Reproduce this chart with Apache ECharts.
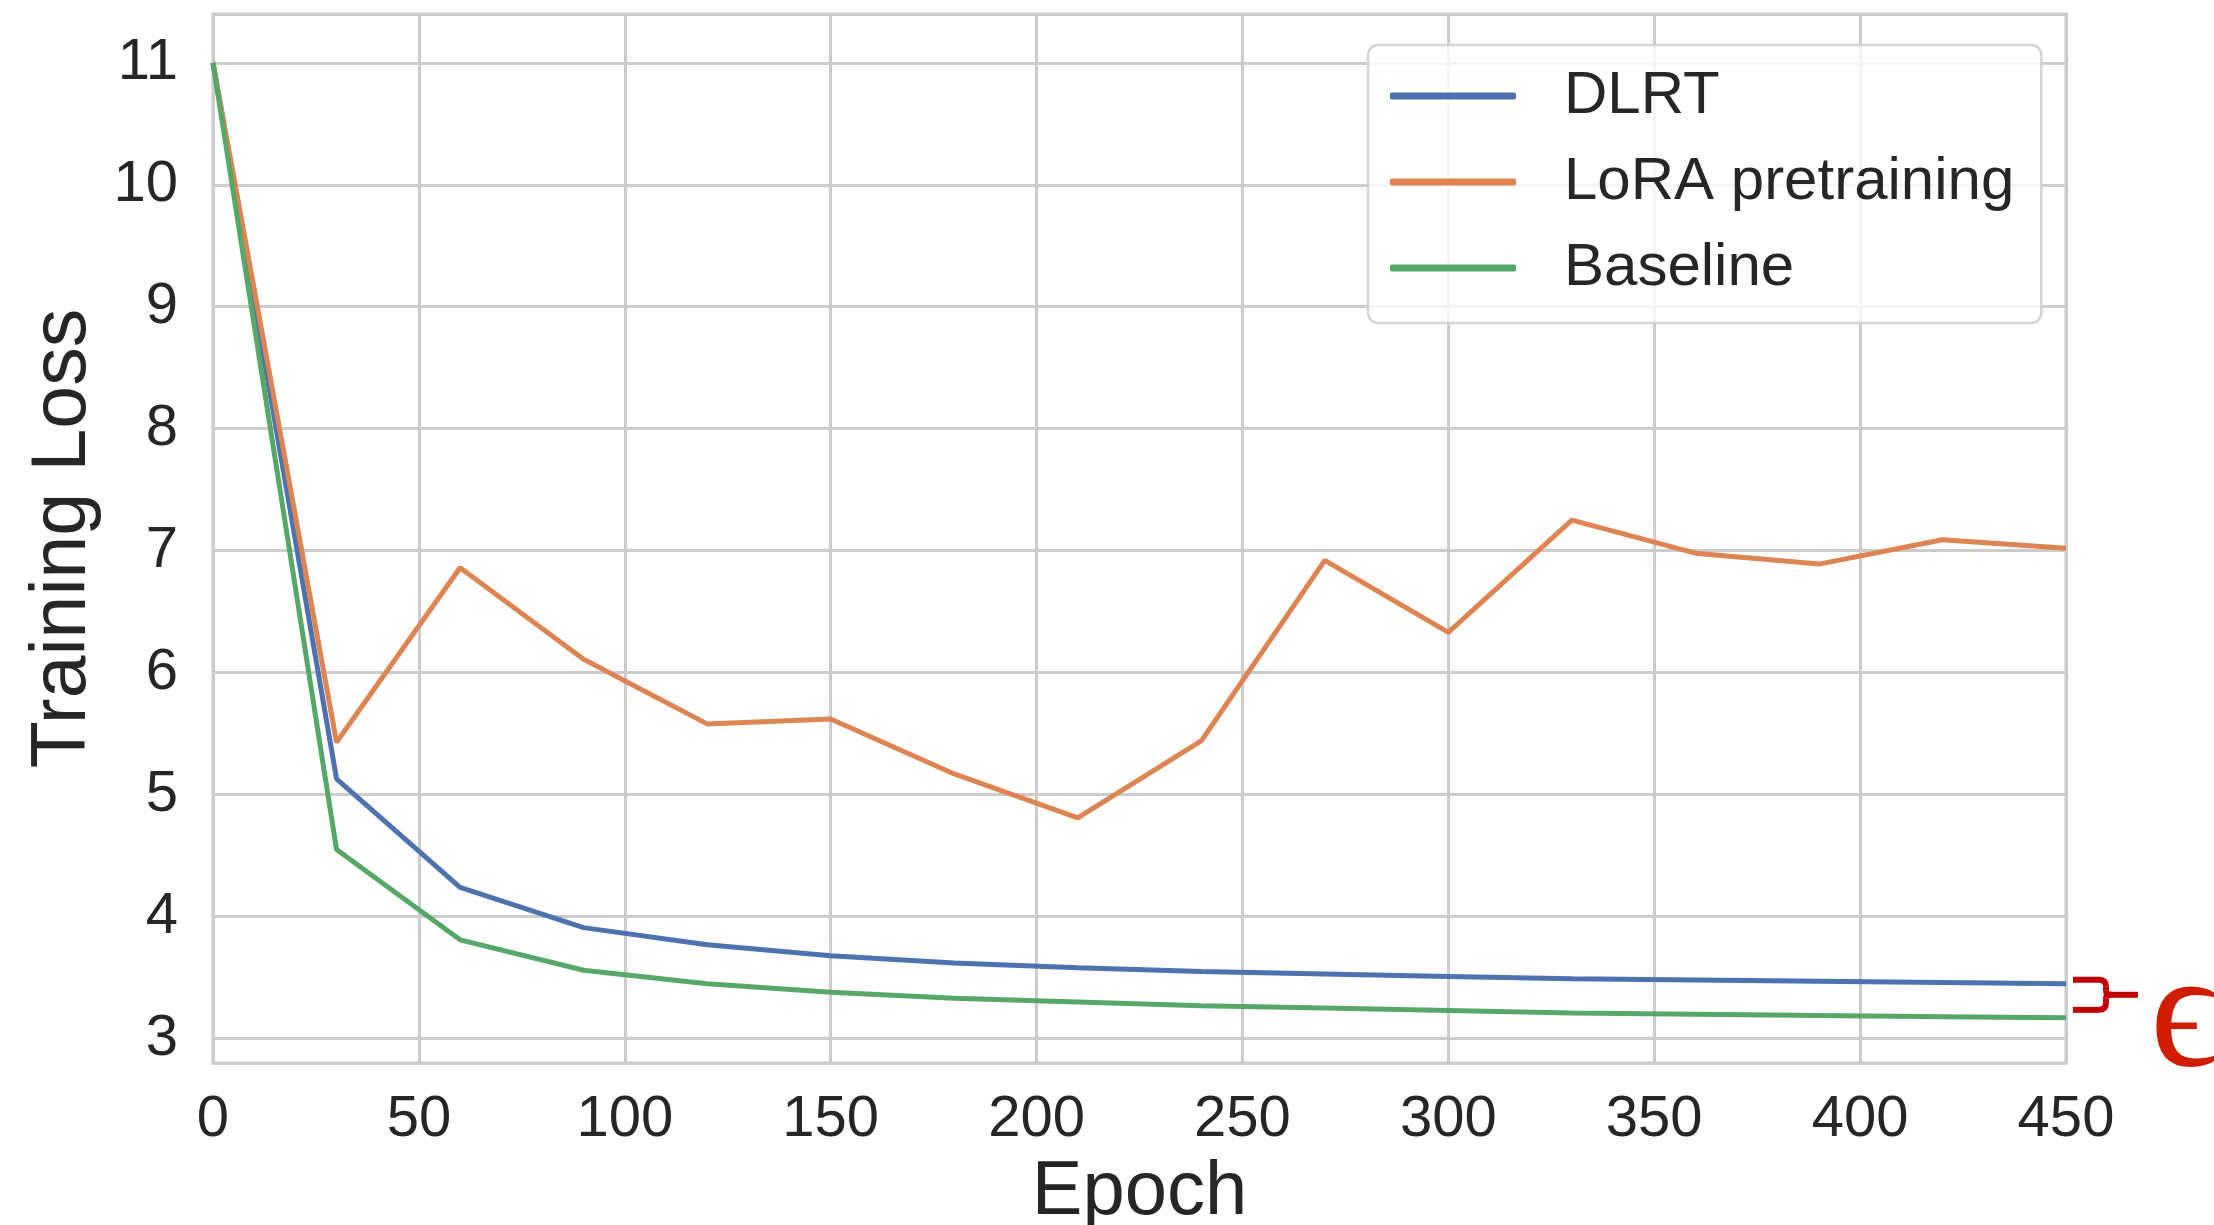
<!DOCTYPE html>
<html>
<head>
<meta charset="utf-8">
<title>Training Loss</title>
<script src="https://cdn.jsdelivr.net/npm/echarts@6/dist/echarts.min.js"></script>
<style>
  html, body { margin: 0; padding: 0; background: #fff; }
  #chart { width: 2214px; height: 1225px; }
</style>
</head>
<body>
<div id="chart"></div>
<script>
  // data (one point every 30 epochs)
  const epochs = [0, 30, 60, 90, 120, 150, 180, 210, 240, 270, 300, 330, 360, 390, 420, 450];
  const dlrt = [11.0, 5.13, 4.24, 3.91, 3.77, 3.68, 3.62, 3.58, 3.55, 3.53, 3.51, 3.49, 3.48, 3.47, 3.46, 3.45];
  const lora = [11.0, 5.43, 6.86, 6.11, 5.58, 5.62, 5.17, 4.81, 5.44, 6.92, 6.33, 7.25, 6.98, 6.89, 7.09, 7.02];
  const baseline = [11.0, 4.55, 3.81, 3.56, 3.45, 3.38, 3.33, 3.30, 3.27, 3.25, 3.23, 3.21, 3.20, 3.19, 3.18, 3.17];
  const seriesNames = ['DLRT', 'LoRA pretraining', 'Baseline'];
  const colors = ['#4c72b0', '#dd8452', '#55a868'];
  const xTickStep = 50;

  const font = '"Liberation Sans", Arial, sans-serif';
  const textColor = '#262626';
  const gridColor = '#cccccc';

  function pairs(ys) {
    return epochs.map((x, i) => [x, ys[i]]);
  }

  const chart = echarts.init(document.getElementById('chart'));
  const option = {
    animation: false,
    color: colors,
    grid: {
      left: 213, right: 148, top: 14, bottom: 162,
      outerBoundsMode: 'none',
      show: true, borderColor: gridColor, borderWidth: 3, backgroundColor: '#fff'
    },
    legend: {
      orient: 'vertical',
      left: 1368, top: 45,
      padding: [21, 27, 25, 22],
      itemWidth: 126, itemHeight: 7, itemGap: 26,
      icon: 'roundRect',
      data: seriesNames,
      textStyle: { fontSize: 60, lineHeight: 60, color: textColor, fontFamily: font, padding: [0, 0, 0, 43] },
      borderColor: '#d4d4d4', borderWidth: 2.5, borderRadius: 10,
      backgroundColor: 'rgba(255,255,255,0.8)'
    },
    xAxis: {
      type: 'value', min: 0, max: 450, interval: xTickStep,
      name: 'Epoch', nameLocation: 'middle', nameGap: 92,
      nameTextStyle: { fontSize: 76, color: textColor, fontFamily: font },
      axisLine: { show: false }, axisTick: { show: false },
      axisLabel: { fontSize: 58, color: textColor, fontFamily: font, margin: 28 },
      splitLine: { show: true, lineStyle: { color: gridColor, width: 3 } }
    },
    yAxis: {
      type: 'value', min: 2.8, max: 11.4, splitNumber: 8,
      name: 'Training Loss', nameLocation: 'middle', nameGap: 110,
      nameTextStyle: { fontSize: 77, color: textColor, fontFamily: font },
      axisLine: { show: false }, axisTick: { show: false },
      axisLabel: { fontSize: 58, color: textColor, fontFamily: font, margin: 35, showMinLabel: false, showMaxLabel: false },
      splitLine: { show: true, lineStyle: { color: gridColor, width: 3 } }
    },
    series: [
      { name: seriesNames[0], type: 'line', data: pairs(dlrt), symbol: 'none', lineStyle: { width: 5 } },
      { name: seriesNames[1], type: 'line', data: pairs(lora), symbol: 'none', lineStyle: { width: 5 } },
      { name: seriesNames[2], type: 'line', data: pairs(baseline), symbol: 'none', lineStyle: { width: 5 } }
    ]
  };
  chart.setOption(option);

  // red brace + epsilon marking the gap between DLRT and Baseline at the last epoch
  const last = epochs.length - 1;
  const pTop = chart.convertToPixel({ gridIndex: 0 }, [epochs[last], dlrt[last]]);
  const pBot = chart.convertToPixel({ gridIndex: 0 }, [epochs[last], baseline[last]]);
  const x0 = pTop[0] + 7, x1 = pTop[0] + 40, xt = pTop[0] + 72;
  const yT = pTop[1] - 4, yB = pBot[1] - 8, yM = (yT + yB) / 2;
  const r = 7;
  const red = '#c00000';
  const braceStyle = { stroke: red, lineWidth: 6, fill: 'none' };

  function seg(a, b, c, d) {
    return { type: 'line', silent: true, z: 100, shape: { x1: a, y1: b, x2: c, y2: d }, style: braceStyle };
  }
  function curve(a, b, cx, cy, c, d) {
    return {
      type: 'bezierCurve', silent: true, z: 100,
      shape: { x1: a, y1: b, cpx1: cx, cpy1: cy, x2: c, y2: d },
      style: braceStyle
    };
  }

  chart.setOption({
    graphic: [
      seg(x0, yT, x1 - r, yT),
      curve(x1 - r, yT, x1, yT, x1, yT + r),
      seg(x1, yT + r, x1, yM - 4),
      curve(x1, yM - 4, x1, yM, x1 + 6, yM),
      seg(x1 + 6, yM, xt, yM),
      curve(x1 + 6, yM, x1, yM, x1, yM + 4),
      seg(x1, yM + 4, x1, yB - r),
      curve(x1, yB - r, x1, yB, x1 - r, yB),
      seg(x1 - r, yB, x0, yB),
      {
        type: 'text', silent: true, z: 100,
        x: xt + 12, y: yM + 26,
        style: {
          text: '\u03F5', fill: '#d01c00',
          font: '168px "Liberation Serif", "DejaVu Serif", serif',
          verticalAlign: 'middle', align: 'left'
        }
      }
    ]
  });
</script>
</body>
</html>
